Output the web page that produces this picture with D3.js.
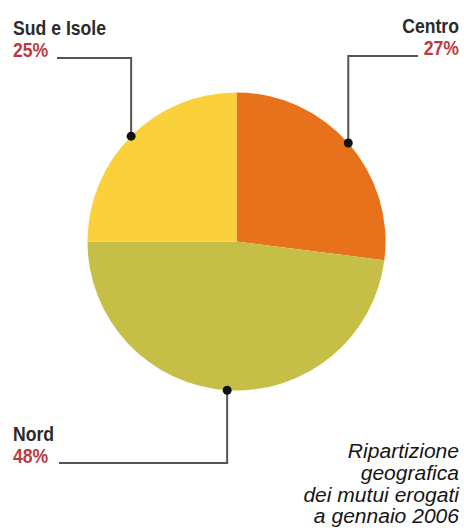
<!DOCTYPE html>
<html><head><meta charset="utf-8">
<script src="https://cdn.jsdelivr.net/npm/d3@7"></script>
<style>
html,body{margin:0;padding:0;background:#fff;}
svg{display:block;}
</style></head>
<body>
<script>
const categories = ["Centro", "Nord", "Sud e Isole"];
const values = [27, 48, 25];
const labels = ["27%", "48%", "25%"];
const colors = ["#E8721C", "#C6BF47", "#FBD13B"];
const titleLines = ["Ripartizione", "geografica", "dei mutui erogati", "a gennaio 2006"];

const W = 464, H = 528;
const cx = 236.5, cy = 241.5, R = 149;
const svg = d3.select("body").append("svg").attr("width", W).attr("height", H);

const pie = d3.pie().sort(null).value(d => d)(values);
const arc = d3.arc().innerRadius(0).outerRadius(R);
const edge = d3.arc().innerRadius(R).outerRadius(R);

const g = svg.append("g").attr("transform", `translate(${cx},${cy})`);
g.selectAll("path.slice").data(pie).join("path")
  .attr("class", "slice")
  .attr("d", arc)
  .attr("fill", (d, i) => colors[i]);

const labelCfg = {
  "Centro": {side: "right", x: 459, y1: 33, y2: 55, lineY: 56, lineEnd: 418},
  "Nord": {side: "left", x: 13, y1: 441, y2: 463, lineY: 463, lineEnd: 59},
  "Sud e Isole": {side: "left", x: 13, y1: 35, y2: 57, lineY: 58, lineEnd: 57}
};

const font = "'Liberation Sans',Arial,sans-serif";
const SX = 0.84;

function label(x, y, anchor, txt, fill) {
  svg.append("text")
    .attr("transform", `translate(${x},${y}) scale(${SX},1)`)
    .attr("text-anchor", anchor)
    .style("font-family", font).style("font-weight", "bold").style("font-size", "21px")
    .attr("fill", fill).text(txt);
}

pie.forEach((d, i) => {
  const cat = categories[i];
  const c = labelCfg[cat];
  const p = edge.centroid(d);
  const dx = cx + p[0], dy = cy + p[1];
  svg.append("path")
    .attr("d", `M${dx},${dy}V${c.lineY}H${c.lineEnd}`)
    .attr("fill", "none").attr("stroke", "#555").attr("stroke-width", 2);
  svg.append("circle").attr("cx", dx).attr("cy", dy).attr("r", 4.5).attr("fill", "#111");
  const anchor = c.side === "right" ? "end" : "start";
  label(c.x, c.y1, anchor, cat, "#2b2b2b");
  label(c.x, c.y2, anchor, labels[i], "#BC3A40");
});

svg.append("g").selectAll("text").data(titleLines).join("text")
  .attr("transform", (d, i) => `translate(459,${458 + i * 21.8}) scale(1.08,1)`)
  .attr("text-anchor", "end")
  .style("font-family", font).style("font-style", "italic").style("font-size", "19.5px")
  .attr("fill", "#151515").text(d => d);
</script>
</body></html>
